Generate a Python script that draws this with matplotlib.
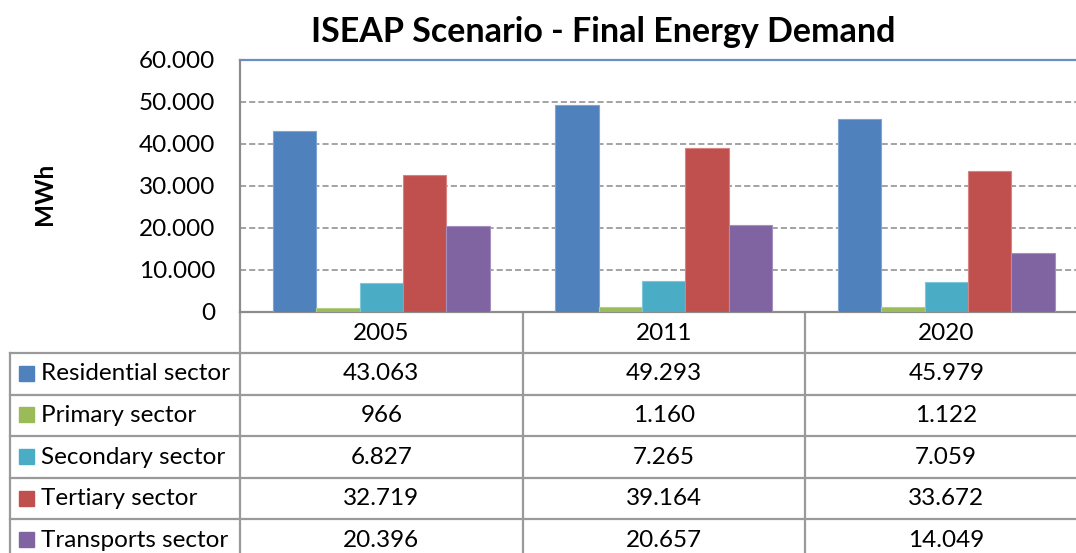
import matplotlib
matplotlib.use("Agg")
import matplotlib.pyplot as plt
from matplotlib.patches import Rectangle

plt.rcParams['font.family'] = ['Lato', 'DejaVu Sans']

years = ["2005", "2011", "2020"]
sectors = ["Residential sector", "Primary sector", "Secondary sector",
           "Tertiary sector", "Transports sector"]
residential = [43063, 49293, 45979]
primary = [966, 1160, 1122]
secondary = [6827, 7265, 7059]
tertiary = [32719, 39164, 33672]
transports = [20396, 20657, 14049]
series = [residential, primary, secondary, tertiary, transports]
colors = ["#4F81BD", "#9BBB59", "#4BACC6", "#C0504D", "#8064A2"]
edges = ["#7FA3D4", "#B5CE85", "#7FC6D8", "#D68381", "#A48FC0"]
yticks = [0, 10000, 20000, 30000, 40000, 50000, 60000]

W, H = 1076, 553
FS = 17.5


def fmt(v):
    return f"{int(v):,}".replace(",", ".")


fig = plt.figure(figsize=(W / 100, H / 100), dpi=100)

# chart area (extends a little past the right edge of the canvas)
x0, x1 = 240, 1087.5
y_top, y_bot = 60, 312
ax = fig.add_axes([x0 / W, (H - y_bot) / H, (x1 - x0) / W, (y_bot - y_top) / H])
ax.set_xlim(0, 3)
ax.set_ylim(0, 60000)

n = len(series)
bw = 1 / (n + 1.5)
for s, (vals, c, ec) in enumerate(zip(series, colors, edges)):
    xs = [i + 0.75 * bw + s * bw for i in range(len(years))]
    ax.bar(xs, vals, width=bw, align='edge', color=c, edgecolor=ec,
           linewidth=0.8, zorder=3)

ax.set_yticks(yticks)
ax.set_yticklabels([fmt(v) for v in yticks], fontsize=FS)
ax.tick_params(axis='y', length=0, pad=18)
ax.set_xticks([])
for y in yticks[1:-1]:
    ax.axhline(y, color="#8A8A8A", lw=1.1, ls=(0, (4, 2)), zorder=1)
ax.axhline(60000, color="#6A8FC8", lw=1.6, zorder=2, clip_on=False)
for side in ["top", "right"]:
    ax.spines[side].set_visible(False)
for side in ["left", "bottom"]:
    ax.spines[side].set_color("#8C8C8C")
    ax.spines[side].set_linewidth(1.6)

fig.text(45 / W, 1 - 194 / H, "MWh", rotation=90, fontsize=FS,
         fontweight='bold', ha='center', va='center')
fig.text(603 / W, 1 - 32 / H, "ISEAP Scenario - Final Energy Demand",
         fontsize=24.5, fontweight='bold', ha='center', va='center')

# data table underneath
tab = fig.add_axes([0, 0, 1, 1], zorder=-1)
tab.set_xlim(0, W)
tab.set_ylim(H, 0)
tab.axis('off')

grid = "#9A9A9A"
col_w = (x1 - x0) / 3
col_edges = [x0 + i * col_w for i in range(4)]
head_top, head_bot = 312, 353
row_h = 41.6
row_edges = [head_bot + i * row_h for i in range(len(sectors) + 1)]

for xe in col_edges:
    tab.plot([xe, xe], [head_top, H + 20], color=grid, lw=1.6, solid_capstyle='butt')
tab.plot([10, 10], [head_bot, H + 20], color=grid, lw=1.6)
for ye in row_edges[:-1]:
    tab.plot([10, W + 20], [ye, ye], color=grid, lw=1.6)

for j, yr in enumerate(years):
    tab.text(col_edges[j] + col_w / 2, (head_top + head_bot) / 2 + 1, yr,
             fontsize=FS, ha='center', va='center')

for r, (name, vals, c) in enumerate(zip(sectors, series, colors)):
    yc = row_edges[r] + row_h / 2
    tab.add_patch(Rectangle((19, yc - 8), 15, 15, color=c))
    tab.text(41, yc, name, fontsize=FS, ha='left', va='center')
    for j, v in enumerate(vals):
        tab.text(col_edges[j] + col_w / 2, yc, fmt(v), fontsize=FS,
                 ha='center', va='center')

fig.savefig("out.png", dpi=100)
